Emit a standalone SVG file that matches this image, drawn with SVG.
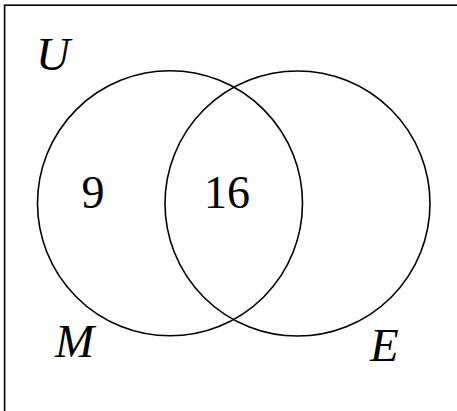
<svg xmlns="http://www.w3.org/2000/svg" width="457" height="411" viewBox="0 0 457 411">
<style>
.ring{fill:none;stroke:#000;stroke-width:1.6}
.lab{font-family:"Liberation Serif","Times New Roman",serif;font-style:italic;font-size:47px;fill:#000}
.num{font-family:"Liberation Serif","Times New Roman",serif;font-size:46px;fill:#000;text-anchor:middle}
</style>
<rect x="0" y="0" width="457" height="411" fill="#fff"/>
<g id="universe">
<rect x="4.6" y="5.2" width="470" height="430" fill="none" stroke="#000" stroke-width="1.6"/>
<text class="lab" x="36" y="70">U</text>
</g>
<g id="M">
<circle class="ring" cx="170" cy="203.3" r="132.5"/>
<text class="lab" x="55" y="357">M</text>
<text class="num" x="93" y="208">9</text>
</g>
<g id="E">
<circle class="ring" cx="297.5" cy="203.5" r="132.5"/>
<text class="lab" x="370" y="360.5">E</text>
</g>
<g id="intersection">
<text class="num" x="227" y="208">16</text>
</g>
<g id="connectors"></g>
</svg>
